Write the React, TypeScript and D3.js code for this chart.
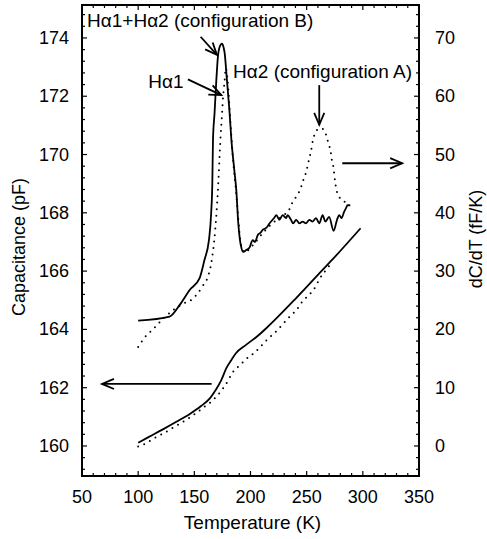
import * as d3 from "d3";

// temperature (K) vs capacitance (pF), left axis
const tempTicks = [50, 100, 150, 200, 250, 300, 350];
const capTicks = [160, 162, 164, 166, 168, 170, 172, 174];
const dcdtTicks = [0, 10, 20, 30, 40, 50, 60, 70];

const capSolid: [number, number][] = [
  [100, 160.11], [110, 160.32], [122, 160.57], [134, 160.83], [146, 161.1],
  [156, 161.37], [164, 161.64], [169, 161.92], [174, 162.26], [178.5, 162.67],
  [183, 162.95], [187, 163.18], [196, 163.47], [205, 163.73], [214, 164.04],
  [221, 164.3], [240, 165.05], [260, 165.87], [273, 166.4], [298, 167.47],
];

const capDotted: [number, number][] = [
  [100, 159.98], [107, 160.09], [113, 160.24], [120, 160.38], [126, 160.51],
  [132.5, 160.66], [139, 160.81], [146, 160.98], [152, 161.14], [158, 161.32],
  [165, 161.52], [171, 161.75], [176, 162.0], [180, 162.24], [184, 162.52],
  [190, 162.75], [196, 162.98], [203, 163.18], [209.5, 163.43], [215, 163.66],
  [222, 163.9], [228, 164.15], [235, 164.44], [241, 164.67], [246, 164.95],
  [252, 165.18], [258, 165.47], [261, 165.7], [266, 165.98], [272, 166.27],
];

// dC/dT (fF/K), right axis
const dcdtSolid: [number, number][] = [
  [100, 21.5], [128, 22.2], [137, 24.2], [146, 26.8], [154.7, 28.8],
  [159, 31.9], [163, 35.3], [165, 40], [166, 45], [166.6, 52.5], [168, 57.1],
  [169.6, 62.8], [171, 66.8], [172.8, 68.6], [174.5, 69], [176, 68.4],
  [177, 67.4], [179, 62.8], [181.4, 57.1], [183, 52.5], [185.5, 47.5],
  [187.5, 43.5], [189, 38.5], [190.5, 35.5], [192, 33.9], [193.5, 33.3],
  [196.2, 33.6], [199, 34.0], [202, 35.3], [204, 35.0], [206.5, 36.2],
  [209, 36.6], [211, 37.1], [214, 37.4], [217, 38.2], [221, 39.1],
  [223, 39.6], [225.7, 38.8], [228.7, 39.6], [231.7, 39.1], [233, 39.6],
  [236, 38.8], [238, 38.2], [240.6, 38.8], [243.5, 38.2], [246.4, 38.5],
  [249.4, 38.2], [252.4, 38.8], [255.3, 38.5], [258.3, 39.1], [261.2, 38.2],
  [264.2, 39.6], [266.6, 38.5], [270, 39.3], [274, 36.9], [277, 38.8],
  [279, 39.6], [281, 39.1], [283.4, 40.2], [285, 40.8], [286.4, 41.3],
  [288.8, 41.3],
];

const dcdtDotted: [number, number][] = [
  [100, 17.0], [107, 18.9], [113, 20.0], [121, 21.6], [131, 23.3],
  [142, 24.6], [149, 25.3], [153, 26.2], [158, 27.6], [162, 29.0],
  [165, 31.3], [168.6, 37.1], [171, 43.9], [173.2, 52.5], [174.5, 56.5],
  [175.6, 59.9], [176.9, 62.5], [178, 64.8], [179.5, 63], [181, 59],
  [182.5, 54.5], [184.5, 49], [186.5, 45], [188.5, 40.5], [190.5, 36],
  [192.5, 33.8], [195, 33.2], [200, 34], [210, 36.3], [220, 38.3],
  [228, 39.4], [234.6, 40.6], [237.6, 41.9], [242, 43.1], [245, 44.4],
  [247, 45.6], [249.4, 46.9], [251, 48.2], [252.4, 49.4], [254, 50.7],
  [255, 51.9], [257, 53.4], [259.7, 54.3], [262.7, 54.5], [266.3, 54],
  [268, 52.8], [270, 51.6], [271.6, 50.2], [272.5, 48.9], [274, 47.6],
  [274.6, 46.5], [275.4, 45.2], [276.6, 43.9], [279, 42.7], [282, 42.2],
  [286, 41.5],
];

// annotation arrows, in data units: [T1, v1, T2, v2] (tip at T2, v2)
const dcdtArrows = [
  [155.6, 70.2, 170.1, 67.1],
  [144.3, 62.9, 174, 60.2],
  [261.2, 61.9, 261.2, 55.1],
  [281.7, 48.5, 335, 48.5],
];
const capArrows = [[165.4, 162.13, 67.8, 162.13]];

const labels = [
  { text: "H\u03b11+H\u03b12 (configuration B)", T: 54.5, v: 71.8 },
  { text: "H\u03b11", T: 109, v: 61.4 },
  { text: "H\u03b12 (configuration A)", T: 184.5, v: 63.1 },
];

const width = 487;
const height = 539;
const marginTop = 5;
const marginRight = 68;
const marginBottom = 63;
const marginLeft = 82;
const font = "'Liberation Sans', Arial, Helvetica, sans-serif";

function Arrow({ x1, y1, x2, y2 }: { x1: number; y1: number; x2: number; y2: number }) {
  const a = Math.atan2(y2 - y1, x2 - x1);
  const len = 13;
  const spread = 0.4;
  const hx1 = x2 - len * Math.cos(a - spread);
  const hy1 = y2 - len * Math.sin(a - spread);
  const hx2 = x2 - len * Math.cos(a + spread);
  const hy2 = y2 - len * Math.sin(a + spread);
  return (
    <g stroke="black" fill="none" strokeWidth={1.8}>
      <line x1={x1} y1={y1} x2={x2} y2={y2} />
      <path d={`M${hx1},${hy1}L${x2},${y2}L${hx2},${hy2}`} />
    </g>
  );
}

export default function App() {
  const x = d3.scaleLinear().domain([50, 350]).range([marginLeft, width - marginRight]);
  const yC = d3.scaleLinear().domain([158.97, 175.13]).range([height - marginBottom, marginTop]);
  const yD = d3.scaleLinear().domain([-5.15, 75.65]).range([height - marginBottom, marginTop]);

  const capLine = d3
    .line<[number, number]>()
    .x((d) => x(d[0]))
    .y((d) => yC(d[1]))
    .curve(d3.curveMonotoneX);
  const dLine = d3
    .line<[number, number]>()
    .x((d) => x(d[0]))
    .y((d) => yD(d[1]))
    .curve(d3.curveMonotoneX);

  const x0 = marginLeft;
  const x1 = width - marginRight;
  const y0 = height - marginBottom;
  const y1 = marginTop;

  const xMinor = d3.range(50, 351, 10);
  const cMinor = d3.range(0, 41).map((i) => 159.2 + 0.4 * i).filter((v) => v < 175.1);
  const dMinor = d3.range(-4, 76, 2);

  return (
    <svg
      width={width}
      height={height}
      style={{ position: "absolute", left: 0, top: 0, background: "white" }}
      fontFamily={font}
    >
      {/* ticks */}
      <g stroke="black" strokeWidth={1.2}>
        {xMinor.map((t) => {
          const len = t % 50 === 0 ? 5 : 3;
          return (
            <g key={"x" + t}>
              <line x1={x(t)} x2={x(t)} y1={y0} y2={y0 - len} />
              <line x1={x(t)} x2={x(t)} y1={y1} y2={y1 + len} />
            </g>
          );
        })}
        {cMinor.map((v) => {
          const major = capTicks.some((c) => Math.abs(c - v) < 0.01);
          return <line key={"c" + v} x1={x0} x2={x0 + (major ? 5 : 3)} y1={yC(v)} y2={yC(v)} />;
        })}
        {dMinor.map((v) => {
          const len = v % 10 === 0 ? 5 : 3;
          return <line key={"d" + v} x1={x1} x2={x1 - len} y1={yD(v)} y2={yD(v)} />;
        })}
      </g>
      <rect x={x0} y={y1} width={x1 - x0} height={y0 - y1} fill="none" stroke="black" strokeWidth={2} />

      {/* tick labels */}
      <g fontSize={18} fill="black">
        {tempTicks.map((t) => (
          <text key={t} x={x(t)} y={y0 + 27} textAnchor="middle">
            {t}
          </text>
        ))}
        {capTicks.map((c) => (
          <text key={c} x={x0 - 13} y={yC(c) + 6} textAnchor="end">
            {c}
          </text>
        ))}
        {dcdtTicks.map((v) => (
          <text key={v} x={x1 + 16} y={yD(v) + 6} textAnchor="start">
            {v}
          </text>
        ))}
      </g>

      {/* axis titles */}
      <g fontSize={18} fill="black">
        <text x={(x0 + x1) / 2 + 2} y={529} textAnchor="middle" fontSize={19}>
          Temperature (K)
        </text>
        <text transform={`translate(25,${247}) rotate(-90)`} textAnchor="middle">
          Capacitance (pF)
        </text>
        <text transform={`translate(482,${239}) rotate(-90)`} textAnchor="middle">
          dC/dT (fF/K)
        </text>
      </g>

      {/* curves */}
      <path d={capLine(capSolid) || ""} fill="none" stroke="black" strokeWidth={1.8} />
      <path
        d={capLine(capDotted) || ""}
        fill="none"
        stroke="black"
        strokeWidth={2}
        strokeDasharray="0 6.5"
        strokeLinecap="round"
      />
      <path d={dLine(dcdtSolid) || ""} fill="none" stroke="black" strokeWidth={1.8} strokeLinejoin="round" />
      <path
        d={dLine(dcdtDotted) || ""}
        fill="none"
        stroke="black"
        strokeWidth={2}
        strokeDasharray="0 6.5"
        strokeLinecap="round"
      />

      {/* annotations */}
      {dcdtArrows.map((a, i) => (
        <Arrow key={"da" + i} x1={x(a[0])} y1={yD(a[1])} x2={x(a[2])} y2={yD(a[3])} />
      ))}
      {capArrows.map((a, i) => (
        <Arrow key={"ca" + i} x1={x(a[0])} y1={yC(a[1])} x2={x(a[2])} y2={yC(a[3])} />
      ))}
      <g fontSize={19} fill="black">
        {labels.map((l) => (
          <text key={l.text} x={x(l.T)} y={yD(l.v)}>
            {l.text}
          </text>
        ))}
      </g>
    </svg>
  );
}
